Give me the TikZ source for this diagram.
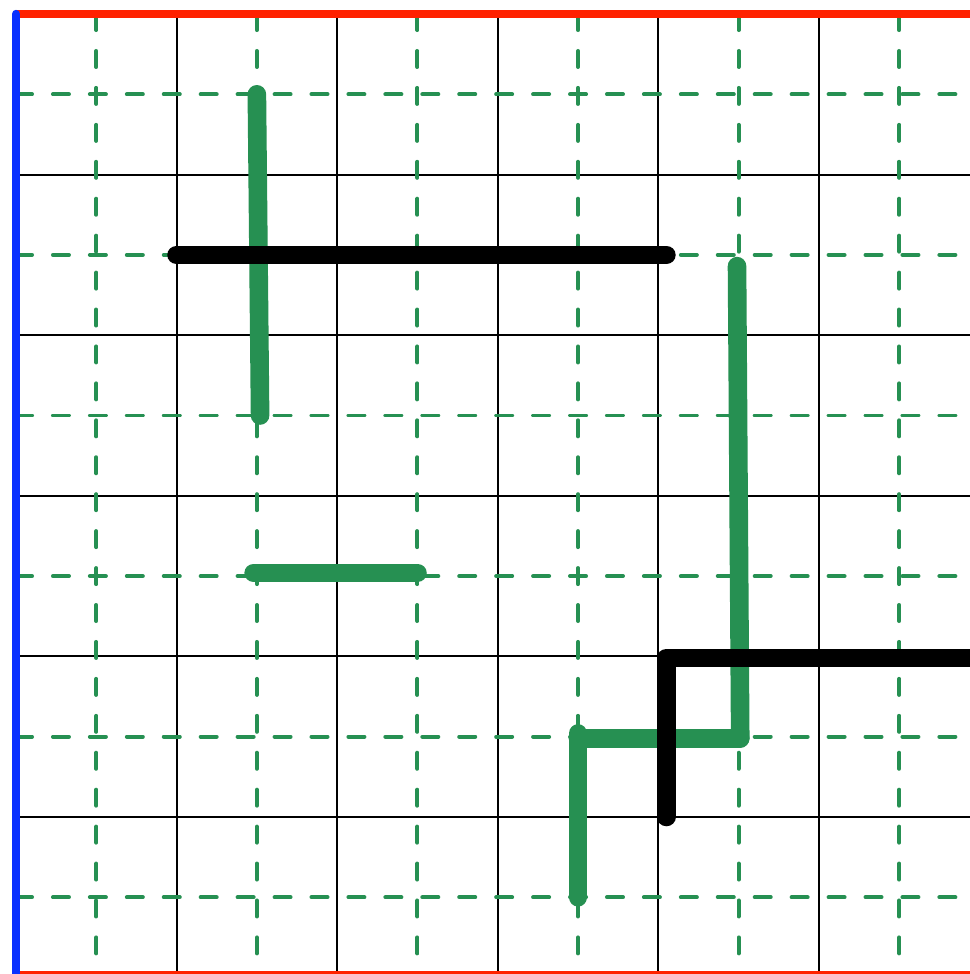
\documentclass[tikz,border=0pt]{standalone}
\definecolor{gridgreen}{RGB}{38,144,82}
\definecolor{edgered}{RGB}{255,34,0}
\definecolor{edgeblue}{RGB}{8,48,255}
\begin{document}
\begin{tikzpicture}[
  thingrid/.style={black,line width=0.35pt},
  halfgrid/.style={gridgreen,line width=0.7pt,line cap=round,dash pattern=on 1mm off 1.3mm},
  greenbar/.style={gridgreen,line width=3.3pt,line cap=round,line join=round},
  blackbar/.style={black,line width=3.3pt,line cap=round,line join=round},
  redframe/.style={edgered,line width=1.5pt},
  blueframe/.style={edgeblue,line width=1.5pt,line cap=round}
]
  \useasboundingbox (-0.0996,0.0872) rectangle (5.940,-5.978);
  % cell lines and half-cell lines
  \foreach \i in {1,...,5} {
    \draw[thingrid] (\i,0) -- (\i,-6);
    \draw[thingrid] (0,-\i) -- (6,-\i);
  }
  \foreach \i in {0.5,1.5,...,5.5} {
    \draw[halfgrid] (\i,0) -- (\i,-6);
    \draw[halfgrid] (0,-\i) -- (6,-\i);
  }
  % frame
  \draw[redframe] (0,0) -- (6,0);
  \draw[redframe] (0,-5.985) -- (6,-5.985);
  \draw[blueframe] (0,0) -- (0,-6);
  % green segments
  \coordinate (g1a) at (1.5,-0.5);   \coordinate (g1b) at (1.52,-2.5);
  \coordinate (g2a) at (1.48,-3.48); \coordinate (g2b) at (2.5,-3.48);
  \coordinate (g3a) at (4.49,-1.57); \coordinate (g3b) at (4.51,-4.51);
  \coordinate (g4a) at (3.5,-5.5);   \coordinate (g4b) at (3.5,-4.48);
  \coordinate (g4c) at (3.5,-4.51);
  \draw[greenbar] (g1a) -- (g1b);
  \draw[greenbar] (g2a) -- (g2b);
  \draw[greenbar] (g3a) -- (g3b);
  \draw[greenbar] (g4a) -- (g4b);
  \draw[greenbar] (g4c) -- (g3b);
  % black segments
  \coordinate (b1a) at (1,-1.5);     \coordinate (b1b) at (4.05,-1.5);
  \coordinate (b2a) at (4.05,-5);    \coordinate (b2b) at (4.05,-4.01);
  \coordinate (b2c) at (6.1,-4.01);
  \draw[blackbar] (b1a) -- (b1b);
  \draw[blackbar] (b2a) -- (b2b) -- (b2c);
\end{tikzpicture}
\end{document}
